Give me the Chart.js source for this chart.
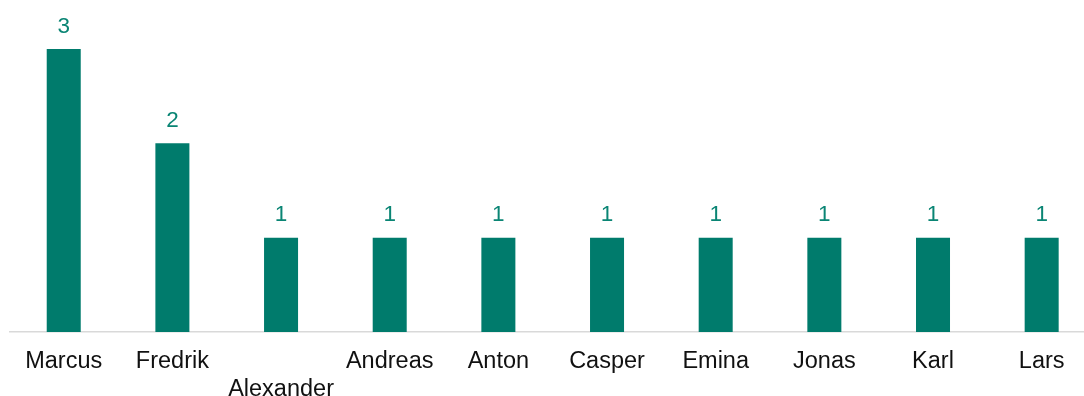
<!DOCTYPE html>
<html>
<head>
<meta charset="utf-8">
<script src="https://cdn.jsdelivr.net/npm/chart.js@4/dist/chart.umd.min.js"></script>
<style>
  html, body { margin: 0; padding: 0; background: #fff; overflow: hidden; width: 1084px; height: 396px; }
  #wrap { width: 1096px; height: 396px; }
</style>
</head>
<body>
<div id="wrap"><canvas id="c" width="1096" height="396"></canvas></div>
<script>
const categories = ["Marcus", "Fredrik", ["", "Alexander"], "Andreas", "Anton", "Casper", "Emina", "Jonas", "Karl", "Lars"];
const values = [3, 2, 1, 1, 1, 1, 1, 1, 1, 1];

const TEAL = "#007B6C";
const FONT = "'Liberation Sans', Arial, sans-serif";

const valueLabels = {
  id: "valueLabels",
  afterDatasetsDraw(chart) {
    const ctx = chart.ctx;
    const meta = chart.getDatasetMeta(0);
    ctx.save();
    ctx.fillStyle = "#0A8574";
    ctx.font = "22.5px " + FONT;
    ctx.textAlign = "center";
    ctx.textBaseline = "alphabetic";
    meta.data.forEach((bar, i) => {
      ctx.fillText(String(values[i]), bar.x, bar.y - 16.5);
    });
    ctx.restore();
  }
};

new Chart(document.getElementById("c"), {
  type: "bar",
  data: {
    labels: categories,
    datasets: [{
      data: values,
      backgroundColor: TEAL,
      borderWidth: 0,
      barPercentage: 0.313,
      categoryPercentage: 1.0
    }]
  },
  options: {
    responsive: false,
    animation: false,
    events: [],
    layout: { padding: { left: 9.4, right: 0, top: 11.3, bottom: 0 } },
    plugins: { legend: { display: false }, tooltip: { enabled: false } },
    scales: {
      x: {
        grid: { display: false, drawTicks: false },
        border: { display: true, color: "#D9D9D9", width: 1.5 },
        ticks: {
          color: "#111111",
          font: { family: FONT, size: 23.5, lineHeight: 1.2 },
          padding: 15.5,
          maxRotation: 0,
          autoSkip: false
        },
        afterFit(scale) { scale.height = 64; }
      },
      y: {
        display: false,
        min: 0,
        max: 3.4
      }
    }
  },
  plugins: [valueLabels]
});
</script>
</body>
</html>
